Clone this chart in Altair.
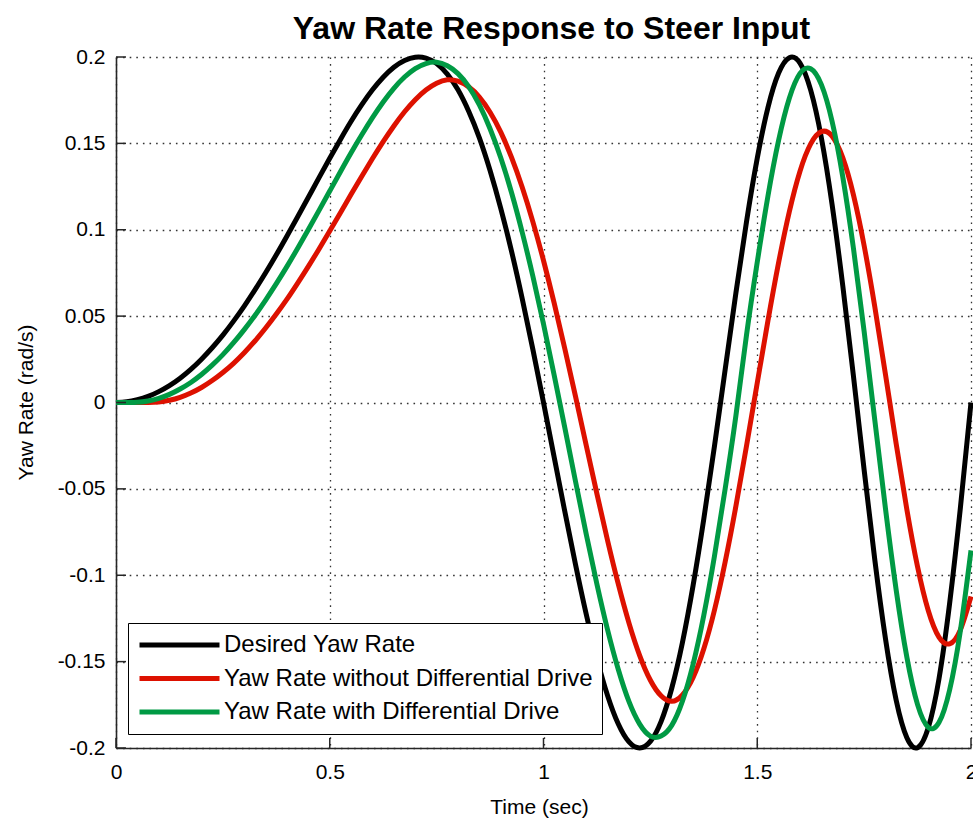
import altair as alt
import pandas as pd

# ---- data ----
time_s = [
    0.0, 0.025, 0.05, 0.075, 0.1, 0.125, 0.15, 0.175, 0.2, 0.225,
    0.25, 0.275, 0.3, 0.325, 0.35, 0.375, 0.4, 0.425, 0.45, 0.475,
    0.5, 0.525, 0.55, 0.575, 0.6, 0.625, 0.65, 0.675, 0.7, 0.725,
    0.75, 0.775, 0.8, 0.825, 0.85, 0.875, 0.9, 0.925, 0.95, 0.975,
    1.0, 1.025, 1.05, 1.075, 1.1, 1.125, 1.15, 1.175, 1.2, 1.225,
    1.25, 1.275, 1.3, 1.325, 1.35, 1.375, 1.4, 1.425, 1.45, 1.475,
    1.5, 1.525, 1.55, 1.575, 1.6, 1.625, 1.65, 1.675, 1.7, 1.725,
    1.75, 1.775, 1.8, 1.825, 1.85, 1.875, 1.9, 1.925, 1.95, 1.975,
    2.0,
]

desired_yaw = [
    0.0000, 0.0004, 0.0016, 0.0035, 0.0063, 0.0098, 0.0141, 0.0192, 0.0251, 0.0317,
    0.0390, 0.0471, 0.0558, 0.0652, 0.0751, 0.0855, 0.0964, 0.1075, 0.1188, 0.1302,
    0.1414, 0.1523, 0.1628, 0.1724, 0.1810, 0.1883, 0.1941, 0.1980, 0.1999, 0.1994,
    0.1962, 0.1901, 0.1810, 0.1686, 0.1532, 0.1343, 0.1124, 0.0878, 0.0604, 0.0309,
    0.0000, -0.0317, -0.0633, -0.0939, -0.1226, -0.1482, -0.1697, -0.1861, -0.1965, -0.2000,
    -0.1962, -0.1847, -0.1654, -0.1389, -0.1058, -0.0673, -0.0251, 0.0192, 0.0633, 0.1049,
    0.1414, 0.1707, 0.1907, 0.1996, 0.1965, 0.1808, 0.1532, 0.1147, 0.0677, 0.0153,
    -0.0390, -0.0911, -0.1369, -0.1724, -0.1941, -0.1998, -0.1883, -0.1601, -0.1163, -0.0614,
    0.0000,
]

yaw_without_dd = [
    0.0000, 0.0000, 0.0000, 0.0000, 0.0003, 0.0013, 0.0030, 0.0055, 0.0087, 0.0127,
    0.0174, 0.0227, 0.0288, 0.0356, 0.0431, 0.0512, 0.0598, 0.0691, 0.0788, 0.0889,
    0.0993, 0.1098, 0.1205, 0.1310, 0.1412, 0.1510, 0.1601, 0.1683, 0.1753, 0.1809,
    0.1848, 0.1868, 0.1860, 0.1827, 0.1768, 0.1680, 0.1565, 0.1420, 0.1247, 0.1047,
    0.0822, 0.0575, 0.0310, 0.0034, -0.0249, -0.0529, -0.0800, -0.1052, -0.1277, -0.1465,
    -0.1608, -0.1698, -0.1730, -0.1693, -0.1592, -0.1426, -0.1201, -0.0922, -0.0601, -0.0250,
    0.0114, 0.0473, 0.0810, 0.1104, 0.1339, 0.1497, 0.1568, 0.1542, 0.1417, 0.1202,
    0.0908, 0.0554, 0.0162, -0.0239, -0.0620, -0.0951, -0.1204, -0.1358, -0.1397, -0.1317,
    -0.1123,
]

yaw_with_dd = [
    0.0000, 0.0000, 0.0001, 0.0009, 0.0024, 0.0047, 0.0078, 0.0116, 0.0162, 0.0216,
    0.0277, 0.0346, 0.0422, 0.0504, 0.0593, 0.0688, 0.0788, 0.0893, 0.1001, 0.1112,
    0.1224, 0.1336, 0.1446, 0.1550, 0.1649, 0.1740, 0.1819, 0.1884, 0.1933, 0.1962,
    0.1970, 0.1949, 0.1904, 0.1829, 0.1723, 0.1585, 0.1417, 0.1217, 0.0987, 0.0732,
    0.0454, 0.0158, -0.0148, -0.0458, -0.0762, -0.1052, -0.1317, -0.1546, -0.1732, -0.1862,
    -0.1931, -0.1931, -0.1869, -0.1729, -0.1514, -0.1231, -0.0888, -0.0498, -0.0077, 0.0393,
    0.0812, 0.1195, 0.1518, 0.1761, 0.1905, 0.1932, 0.1840, 0.1628, 0.1307, 0.0893,
    0.0412, -0.0103, -0.0616, -0.1086, -0.1475, -0.1749, -0.1880, -0.1853, -0.1664, -0.1323,
    -0.0856,
]

series_names = [
    "Desired Yaw Rate",
    "Yaw Rate without Differential Drive",
    "Yaw Rate with Differential Drive",
]
series_colors = ["#000000", "#dd1100", "#009a44"]

x_ticks = [0, 0.5, 1, 1.5, 2]
y_ticks = [-0.2, -0.15, -0.1, -0.05, 0, 0.05, 0.1, 0.15, 0.2]

# ---- build tables ----
rows = []
for name, vals in zip(series_names, [desired_yaw, yaw_without_dd, yaw_with_dd]):
    for i, (t, v) in enumerate(zip(time_s, vals)):
        rows.append({"t": t, "v": v, "series": name, "k": i})
df = pd.DataFrame(rows)
df_xt = pd.DataFrame({"t": x_ticks})
df_yt = pd.DataFrame({"v": y_ticks})

FONT = "Liberation Sans"
AX = "#262626"
W, H = 855, 691

x_scale = alt.Scale(domain=[0, 2], nice=False, zero=False)
y_scale = alt.Scale(domain=[-0.2, 0.2], nice=False, zero=False)

x_axis = alt.Axis(
    values=x_ticks, title="Time (sec)", grid=True, ticks=False, tickSize=0,
    labelExpr="'' + datum.value", labelPadding=13, labelFontSize=21,
    titleX=423, titleY=65, titleBaseline="alphabetic", titleFontSize=21,
    titleFontWeight="normal", labelFlush=False,
)
y_axis = alt.Axis(
    values=y_ticks, title="Yaw Rate (rad/s)", grid=True, ticks=False, tickSize=0,
    labelExpr="'' + datum.value", labelPadding=11, labelFontSize=21,
    titleX=-84, titleY=345, titleAngle=270, titleBaseline="alphabetic",
    titleAlign="center", titleFontSize=21, titleFontWeight="normal",
    labelFlush=False,
)

lines = alt.Chart(df).mark_line(strokeWidth=5, interpolate="natural", clip=False).encode(
    x=alt.X("t:Q", scale=x_scale, axis=x_axis),
    y=alt.Y("v:Q", scale=y_scale, axis=y_axis),
    color=alt.Color(
        "series:N",
        sort=series_names,
        scale=alt.Scale(domain=series_names, range=series_colors),
        legend=alt.Legend(
            title=None, orient="none", legendX=12, legendY=566,
            symbolType="stroke", symbolSize=6400, symbolStrokeWidth=5,
            clipHeight=26, rowPadding=7.5, padding=9, labelOffset=2, symbolOffset=0,
            strokeColor="#000000", fillColor="#ffffff",
            labelFont=FONT, labelFontSize=24, labelColor="#000000", labelLimit=600,
        ),
    ),
    order=alt.Order("k:Q"),
)

xt = alt.Chart(df_xt).mark_rule(color=AX, strokeWidth=1.5).encode(
    x=alt.X("t:Q", scale=x_scale), y=alt.value(H), y2=alt.value(H - 10)
)
yt = alt.Chart(df_yt).mark_rule(color=AX, strokeWidth=1.5).encode(
    y=alt.Y("v:Q", scale=y_scale), x=alt.value(0), x2=alt.value(10)
)

chart = alt.layer(lines, xt, yt).properties(
    width=W, height=H,
    title=alt.Title(
        "Yaw Rate Response to Steer Input", font=FONT, fontSize=32,
        fontWeight="bold", color="#000000", anchor="middle", offset=0, dx=8,
    ),
    autosize=alt.AutoSizeParams(type="none"),
    padding={"left": 116, "top": 57, "right": 2, "bottom": 73},
    background="#ffffff",
).configure_view(stroke=None).configure_axis(
    domainColor=AX, domainWidth=1.6,
    gridColor="#333333", gridDash=[1.6, 5], gridWidth=1.3, gridOpacity=1,
    labelFont=FONT, labelColor="#000000", titleFont=FONT, titleColor="#000000",
)

chart.save("out.html", embed_options={"renderer": "svg", "actions": False})
